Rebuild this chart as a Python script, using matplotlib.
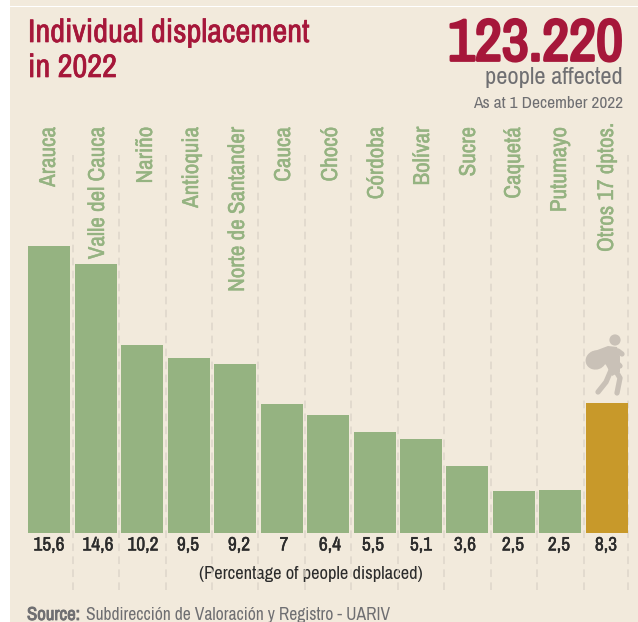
import matplotlib
matplotlib.use("Agg")
import matplotlib.pyplot as plt
import matplotlib.patheffects as pe
from matplotlib.patches import Rectangle, Circle, Ellipse, Polygon

W, H = 638, 622
NARROW = ["Archivo Narrow", "Liberation Sans", "DejaVu Sans"]
plt.rcParams["font.family"] = NARROW

# Data
departments = ["Arauca", "Valle del Cauca", "Nariño", "Antioquia", "Norte de Santander",
               "Cauca", "Chocó", "Córdoba", "Bolívar", "Sucre", "Caquetá", "Putumayo",
               "Otros 17 dptos."]
value_labels = ["15,6", "14,6", "10,2", "9,5", "9,2", "7", "6,4", "5,5", "5,1", "3,6",
                "2,5", "2,5", "8,3"]
# drawn heights as measured (last bars are not to scale with their labels)
bar_heights = [15.6, 14.6, 10.2, 9.5, 9.2, 7.0, 6.4, 5.5, 5.1, 3.64, 2.3, 2.35, 7.07]

# Layout (pixels)
name_x = [48.5, 97.5, 145.5, 191.5, 237.5, 283.5, 330.5, 376.5, 422.5, 468.5, 513.5, 559.5, 606.5]
name_top = [127] * 12 + [123]
value_x = [49, 98, 143, 188, 239, 284, 330, 373, 421, 465, 513, 559, 606]

BG = "#f2eadc"
GREEN = "#95b381"
GOLD = "#c8992a"
RED = "#a6173a"
GREY = "#6f6f72"
DASH = "#ded6ca"
ICON = "#c9c1b7"


def heavy(width, color):
    # the narrow font has no bold face here, so thicken with a stroke
    return [pe.withStroke(linewidth=width, foreground=color)]


fig = plt.figure(figsize=(W / 100, H / 100), dpi=100, facecolor="white")

# Overlay in pixel coords for panel, text and icon
bg = fig.add_axes([0, 0, 1, 1])
bg.set_xlim(0, W)
bg.set_ylim(H, 0)
bg.axis("off")
bg.add_patch(Rectangle((10, 0), W - 10, H, color=BG, lw=0))
bg.add_patch(Rectangle((10, 5.5), W - 10, 1.6, color="white", lw=0))

# Bars
PITCH = 46.45
X0 = 49.4
PX_PER_UNIT = 18.4
BASE = 533
ax = fig.add_axes([10 / W, (H - BASE) / H, (W - 10) / W, (BASE - 120) / H])
ax.set_xlim((10 - X0) / PITCH, (W - X0) / PITCH)
ax.set_ylim(0, (BASE - 120) / PX_PER_UNIT)
ax.axis("off")
ax.patch.set_alpha(0)

dash_pos = [i + 0.5 for i in range(12)] + [12.45]
ax.vlines(dash_pos, -57 / PX_PER_UNIT, 378 / PX_PER_UNIT, colors=DASH, lw=1.1,
          linestyles=(0, (5, 3.5)), clip_on=False, zorder=1)

colors = [GREEN] * 12 + [GOLD]
ax.bar(range(len(bar_heights)), bar_heights, width=0.904, color=colors, lw=0, zorder=2)

# Header
bg.text(28, 33, "Individual displacement", color=RED, fontsize=23.4, ha="left", va="center",
        path_effects=heavy(0.5, RED))
bg.text(28, 68, "in 2022", color=RED, fontsize=23.4, ha="left", va="center",
        path_effects=heavy(0.5, RED))
bg.text(623, 44, "123.220", color=RED, fontsize=42.5, ha="right", va="center",
        path_effects=heavy(2.0, RED))
bg.text(623, 77, "people affected", color=GREY, fontsize=17.6, ha="right", va="center")
bg.text(623, 103, "As at 1 December 2022", color=GREY, fontsize=12.5, ha="right", va="center")

# Category names and values
for x, top, name in zip(name_x, name_top, departments):
    bg.text(x, top, name, color=GREEN, fontsize=16.6, rotation=90, ha="center", va="top",
            path_effects=heavy(0.3, GREEN))
for x, val in zip(value_x, value_labels):
    bg.text(x, 545, val, color="#2b2b2b", fontsize=14, ha="center", va="center",
            path_effects=heavy(0.3, "#2b2b2b"))

bg.text(311, 574, "(Percentage of people displaced)", color="#2b2b2b", fontsize=13.3,
        ha="center", va="center")
bg.text(27, 615, "Source:", color=GREY, fontsize=13.5, ha="left", va="center",
        path_effects=heavy(0.6, GREY))
bg.text(86, 615, "Subdirección de Valoración y Registro - UARIV", color=GREY, fontsize=12.6,
        ha="left", va="center")

# Person carrying a sack
bg.add_patch(Circle((615, 340), 5.6, color=ICON, lw=0))
bg.add_patch(Ellipse((596, 360), 21, 19, angle=-20, color=ICON, lw=0))
bg.add_patch(Polygon([(592, 352), (608, 346), (617, 347), (620, 356), (620, 372), (612, 376),
                      (606, 365)], closed=True, color=ICON, lw=0))
for xs, ys in [((612, 606, 598), (368, 382, 392)),
               ((614, 620, 617), (368, 378, 393)),
               ((612, 620), (358, 366)),
               ((618, 622), (351, 354))]:
    bg.plot(xs, ys, color=ICON, lw=3.8, solid_capstyle="round", solid_joinstyle="round")

fig.savefig("out.png", dpi=100, facecolor="white")
